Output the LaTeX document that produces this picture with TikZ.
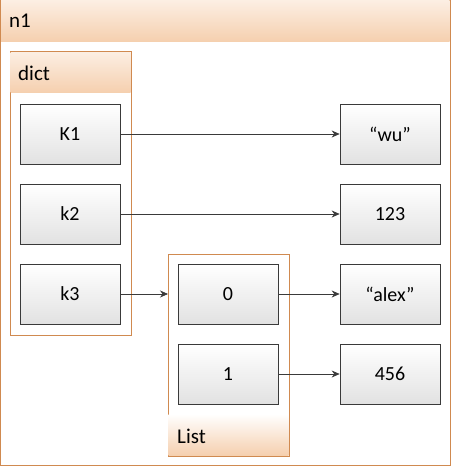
\documentclass[tikz,border=0pt]{standalone}
\usepackage{fontspec}
\setmainfont{Carlito}
\usetikzlibrary{arrows.meta}
\definecolor{obord}{HTML}{D08A50}
\definecolor{hdrtop}{HTML}{FCEEE2}
\definecolor{hdrbot}{HTML}{F5CFAE}
\definecolor{cellbot}{HTML}{E2E2E2}
\definecolor{gbord}{HTML}{3A3A3A}
\tikzset{
  frame/.style={draw=obord, line width=1pt, fill=white},
  hdr/.style={top color=hdrtop, bottom color=hdrbot, draw=none},
  cell/.style={draw=gbord, line width=0.7pt, top color=white, bottom color=cellbot, inner sep=0pt, font=\fontsize{20}{22}\selectfont},
  lbl/.style={anchor=west, font=\fontsize{21}{23}\selectfont, inner sep=0pt},
  conn/.style={draw=gbord, line width=0.7pt, -{Stealth[length=8pt,width=7pt]}},
}
\begin{document}
\begin{tikzpicture}[x=1pt,y=-1pt]
\useasboundingbox (0,0) rectangle (451,468);
% outer frame n1
\path[frame] (0.5,0.5) rectangle (450,465);
\path[hdr] (1,1) rectangle (449.5,42);
\node[lbl] (n1) at (9,21) {n1};
% dict frame
\path[frame] (10,52) rectangle (131,335);
\path[hdr] (10.5,52.5) rectangle (130.5,93);
\node[lbl] (dictl) at (18,73) {dict};
% List frame
\path[frame] (168,254) rectangle (289,456);
\path[hdr, top color=white, bottom color=hdrbot] (168.5,414) rectangle (288.5,455.5);
\node[lbl] (listl) at (177,436) {List};
\coordinate (listin) at (168,294);
% cells
\node[cell, minimum width=100pt, minimum height=60pt] (K1) at (70,134) {K1};
\node[cell, minimum width=100pt, minimum height=60pt] (k2) at (70,214) {k2};
\node[cell, minimum width=100pt, minimum height=60pt] (k3) at (70,294) {k3};
\node[cell, minimum width=100pt, minimum height=60pt] (l0) at (228,294) {0};
\node[cell, minimum width=100pt, minimum height=60pt] (l1) at (228,374) {1};
\node[cell, minimum width=100pt, minimum height=60pt] (vwu) at (390,134) {“wu”};
\node[cell, minimum width=100pt, minimum height=60pt] (v123) at (390,214) {123};
\node[cell, minimum width=100pt, minimum height=60pt] (valex) at (390,294) {“alex”};
\node[cell, minimum width=100pt, minimum height=60pt] (v456) at (390,374) {456};
% connectors
\draw[conn] (K1) -- (vwu);
\draw[conn] (k2) -- (v123);
\draw[conn] (k3) -- (listin);
\draw[conn] (l0) -- (valex);
\draw[conn] (l1) -- (v456);
\end{tikzpicture}
\end{document}
